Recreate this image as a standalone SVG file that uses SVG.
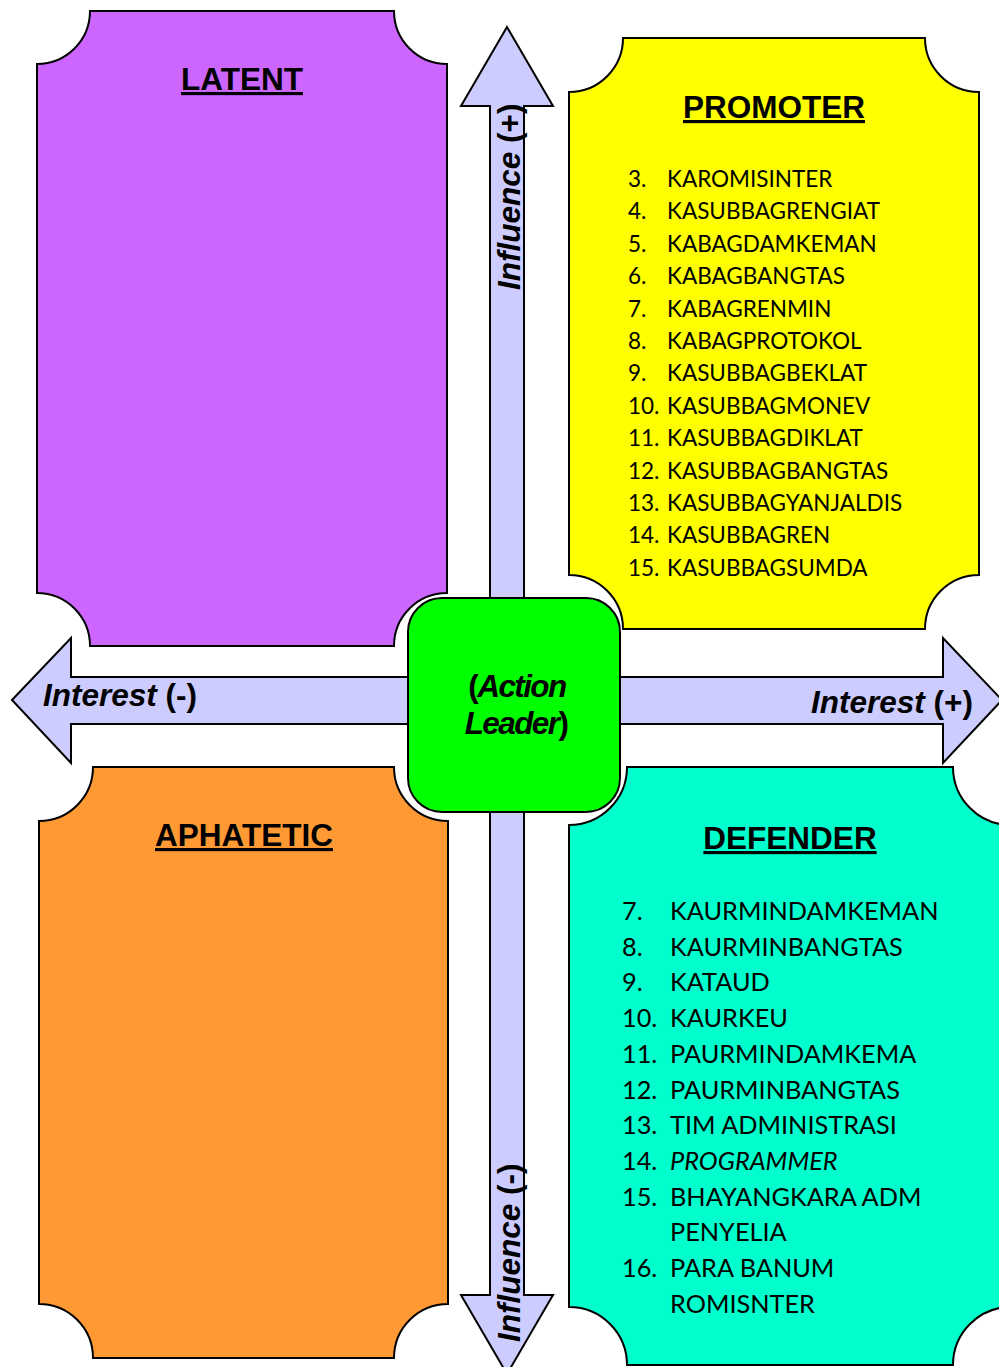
<svg xmlns="http://www.w3.org/2000/svg" width="999" height="1367" viewBox="0 0 999 1367">
<style>
.q{stroke:#000;stroke-width:2}
.ax{fill:#CCCCFF;stroke:#000;stroke-width:2;stroke-linejoin:miter}
.h{font-family:"Liberation Sans",Arial,sans-serif;font-weight:bold;font-size:31.5px;text-decoration:underline;text-anchor:middle;fill:#000}
.lb{font-family:"Liberation Sans",Arial,sans-serif;font-weight:bold;font-size:31.5px;fill:#000}
.it{font-style:italic}
.p{font-family:Lato,"Open Sans",sans-serif;font-size:22.5px;fill:#000}
.d{font-family:Lato,"Open Sans",sans-serif;font-size:25.3px;fill:#000}
</style>
<rect width="999" height="1367" fill="#fff"/>
<g id="connectors">
<polygon class="ax" points="507,27 553,106 524,106 524,1295 553,1295 507,1374 461,1295 490,1295 490,106 461,106"/>
<polygon class="ax" points="12,700 71,638 71,677 943,677 943,638 1002,700 943,763 943,724 71,724 71,763"/>
<text class="lb" transform="translate(520,290) rotate(-90)"><tspan class="it">Influence</tspan> (+)</text>
<text class="lb" transform="translate(520,1342) rotate(-90)"><tspan class="it">Influence</tspan> (-)</text>
<text class="lb" x="43" y="706"><tspan class="it">Interest</tspan> (-)</text>
<text class="lb" x="811" y="713"><tspan class="it">Interest</tspan> (+)</text>
</g>
<g id="latent">
<path class="q" fill="#CC66FF" d="M90,11 H394 A53,53 0 0 0 447,64 V593 A53,53 0 0 0 394,646 H90 A53,53 0 0 0 37,593 V64 A53,53 0 0 0 90,11 Z"/>
<text class="h" x="242" y="90">LATENT</text>
</g>
<g id="promoter">
<path class="q" fill="#FFFF00" d="M623,38 H925 A54,54 0 0 0 979,92 V575 A54,54 0 0 0 925,629 H623 A54,54 0 0 0 569,575 V92 A54,54 0 0 0 623,38 Z"/>
<text class="h" x="774" y="118">PROMOTER</text>
<g class="p">
<text x="628" y="187">3.</text><text x="667" y="187">KAROMISINTER</text>
<text x="628" y="219.4">4.</text><text x="667" y="219.4">KASUBBAGRENGIAT</text>
<text x="628" y="251.8">5.</text><text x="667" y="251.8">KABAGDAMKEMAN</text>
<text x="628" y="284.2">6.</text><text x="667" y="284.2">KABAGBANGTAS</text>
<text x="628" y="316.6">7.</text><text x="667" y="316.6">KABAGRENMIN</text>
<text x="628" y="349">8.</text><text x="667" y="349">KABAGPROTOKOL</text>
<text x="628" y="381.4">9.</text><text x="667" y="381.4">KASUBBAGBEKLAT</text>
<text x="628" y="413.8">10.</text><text x="667" y="413.8">KASUBBAGMONEV</text>
<text x="628" y="446.2">11.</text><text x="667" y="446.2">KASUBBAGDIKLAT</text>
<text x="628" y="478.6">12.</text><text x="667" y="478.6">KASUBBAGBANGTAS</text>
<text x="628" y="511">13.</text><text x="667" y="511">KASUBBAGYANJALDIS</text>
<text x="628" y="543.4">14.</text><text x="667" y="543.4">KASUBBAGREN</text>
<text x="628" y="575.8">15.</text><text x="667" y="575.8">KASUBBAGSUMDA</text>
</g>
</g>
<g id="aphatetic">
<path class="q" fill="#FF9933" d="M93,767 H394 A54,54 0 0 0 448,821 V1304 A54,54 0 0 0 394,1358 H93 A54,54 0 0 0 39,1304 V821 A54,54 0 0 0 93,767 Z"/>
<text class="h" x="244" y="846">APHATETIC</text>
</g>
<g id="defender">
<path class="q" fill="#00FFCC" d="M627,767 H953 A58,58 0 0 0 1011,825 V1307 A58,58 0 0 0 953,1365 H627 A58,58 0 0 0 569,1307 V825 A58,58 0 0 0 627,767 Z"/>
<text class="h" x="790" y="849">DEFENDER</text>
<g class="d">
<text x="622" y="920">7.</text><text x="670" y="920">KAURMINDAMKEMAN</text>
<text x="622" y="955.7">8.</text><text x="670" y="955.7">KAURMINBANGTAS</text>
<text x="622" y="991.4">9.</text><text x="670" y="991.4">KATAUD</text>
<text x="622" y="1027.1">10.</text><text x="670" y="1027.1">KAURKEU</text>
<text x="622" y="1062.8">11.</text><text x="670" y="1062.8">PAURMINDAMKEMA</text>
<text x="622" y="1098.5">12.</text><text x="670" y="1098.5">PAURMINBANGTAS</text>
<text x="622" y="1134.2">13.</text><text x="670" y="1134.2">TIM ADMINISTRASI</text>
<text x="622" y="1169.9">14.</text><text x="670" y="1169.9" font-style="italic">PROGRAMMER</text>
<text x="622" y="1205.6">15.</text><text x="670" y="1205.6">BHAYANGKARA ADM</text>
<text x="670" y="1241.3">PENYELIA</text>
<text x="622" y="1277">16.</text><text x="670" y="1277">PARA BANUM</text>
<text x="670" y="1312.7">ROMISNTER</text>
</g>
</g>
<g id="action-leader">
<rect x="408" y="598" width="212" height="214" rx="34" ry="34" fill="#00FF00" stroke="#000" stroke-width="2"/>
<text class="lb" x="517" y="697" text-anchor="middle" font-size="30" letter-spacing="-1.6">(<tspan class="it">Action</tspan></text>
<text class="lb" x="516" y="734" text-anchor="middle" font-size="30" letter-spacing="-1.6"><tspan class="it">Leader</tspan>)</text>
</g>
</svg>
